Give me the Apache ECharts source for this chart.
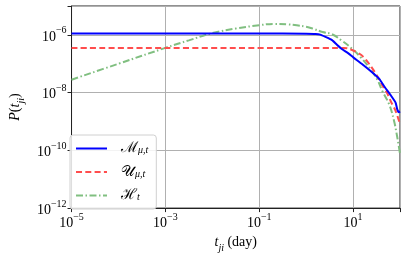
<!DOCTYPE html>
<html><head><meta charset="utf-8">
<script src="https://cdn.jsdelivr.net/npm/echarts@6/dist/echarts.min.js"></script>
<style>html,body{margin:0;padding:0;background:#fff}#c{width:407px;height:258px}</style>
</head><body><div id="c"></div>
<script>
// ---- data (x in days, y = P(t_ji)) ----
const mX = [1e-5, 0.1, 1, 1.585, 1.995, 2.58, 3.56, 4.53, 5.75, 7.94, 10.1, 15.0, 24.3, 36.1, 46.0, 63.4, 80.5, 87.1, 94.4, 100];
const mY = [1.109e-6, 1.109e-6, 1.10e-6, 1.08e-6, 1.02e-6, 8.49e-7, 6.58e-7, 4.56e-7, 3.24e-7, 2.29e-7, 1.66e-7, 1.02e-7, 5.37e-8, 2.99e-8, 1.66e-8, 8.13e-9, 4.52e-9, 2.69e-9, 2.09e-9, 2.24e-9];
const uX = [1e-5, 1, 3.98, 6.31, 7.94, 11.0, 15.0, 19.1, 24.3, 33.1, 42.2, 53.7, 63.1, 80.5, 94.4, 100];
const uY = [3.52e-7, 3.52e-7, 3.52e-7, 3.51e-7, 3.35e-7, 2.69e-7, 2.0e-7, 1.32e-7, 7.94e-8, 3.63e-8, 1.74e-8, 9.33e-9, 5.13e-9, 2.34e-9, 1.10e-9, 8.3e-10];
const hX = [1e-5, 1e-4, 1e-3, 3.16e-3, 1e-2, 3.16e-2, 0.1, 0.2, 0.398, 0.631, 1, 1.365, 2.24, 3.56, 5.75, 9.66, 15.0, 24.3, 33.1, 42.2, 58.6, 74.1, 87.1, 100];
const hY = [2.8e-8, 1.0e-7, 3.55e-7, 6.46e-7, 1.15e-6, 1.66e-6, 2.16e-6, 2.40e-6, 2.32e-6, 2.14e-6, 1.90e-6, 1.66e-6, 1.26e-6, 1.05e-6, 6.31e-7, 3.24e-7, 1.58e-7, 6.03e-8, 2.75e-8, 1.12e-8, 3.98e-9, 1.10e-9, 2.95e-10, 7.6e-11];
const seriesNames = ['M', 'U', 'H'];
const xTickExps = [-5, -3, -1, 1];
const yTickExps = [-12, -10, -8, -6];

const FONT = "'Liberation Serif', 'DejaVu Serif', serif";
const pair = (xs, ys) => xs.map((x, i) => [x, ys[i]]);
function expLabel(v, shown) {
  const e = Math.round(Math.log10(v));
  if (shown.indexOf(e) < 0) return '';
  return '{b|10}{s|' + (e < 0 ? '\u2212' + (-e) : String(e)) + '}';
}
const tickRich = {
  b: {fontFamily: FONT, fontSize: 14, color: '#000', lineHeight: 18, verticalAlign: 'bottom'},
  s: {fontFamily: FONT, fontSize: 10, color: '#000', verticalAlign: 'top'}
};
const legendText = {
  M: '{c|\u2133}{sub|\u03bc,t}',
  U: '{c|\ud835\udcb0}{sub|\u03bc,t}',
  H: '{c|\u210b}{sub|t}'
};

const chart = echarts.init(document.getElementById('c'), null, {renderer: 'canvas'});
chart.setOption({
  animation: false,
  backgroundColor: '#fff',
  grid: {left: 63.5, right: 7, top: 6, bottom: 44.5, show: true, borderColor: '#222', borderWidth: 1, containLabel: false},
  xAxis: {
    type: 'log', logBase: 10, min: 1e-5, max: 100, interval: 2,
    axisLine: {show: true, lineStyle: {color: '#222', width: 1}},
    axisTick: {show: true, length: 4, lineStyle: {color: '#222'}},
    splitLine: {show: true, lineStyle: {color: '#b0b0b0', width: 1}},
    minorTick: {show: false}, minorSplitLine: {show: false},
    axisLabel: {margin: 4, formatter: v => expLabel(v, xTickExps), rich: tickRich, showMaxLabel: true},
    name: '{i|t}{sub|ji} {n|(day)}', nameLocation: 'middle', nameGap: 20,
    nameTextStyle: {rich: {
      i: {fontFamily: FONT, fontStyle: 'italic', fontSize: 14, color: '#000', lineHeight: 18, verticalAlign: 'top'},
      sub: {fontFamily: FONT, fontStyle: 'italic', fontSize: 10, color: '#000', verticalAlign: 'bottom'},
      n: {fontFamily: FONT, fontSize: 14, color: '#000', lineHeight: 18, verticalAlign: 'top'}
    }}
  },
  yAxis: {
    type: 'log', logBase: 10, min: 1e-12, max: 1e-5, interval: 2,
    axisLine: {show: true, lineStyle: {color: '#222', width: 1}},
    axisTick: {show: true, length: 4, lineStyle: {color: '#222'}},
    splitLine: {show: true, lineStyle: {color: '#b0b0b0', width: 1}},
    minorTick: {show: false}, minorSplitLine: {show: false},
    axisLabel: {margin: 5, formatter: v => expLabel(v, yTickExps), rich: tickRich},
    name: '{i|P}{n|(}{i|t}{sub|ji}{n|)}', nameLocation: 'middle', nameGap: 37, nameRotate: 90,
    nameTextStyle: {rich: {
      i: {fontFamily: FONT, fontStyle: 'italic', fontSize: 14, color: '#000', lineHeight: 18, verticalAlign: 'top'},
      sub: {fontFamily: FONT, fontStyle: 'italic', fontSize: 10, color: '#000', verticalAlign: 'bottom'},
      n: {fontFamily: FONT, fontSize: 14, color: '#000', lineHeight: 18, verticalAlign: 'top'}
    }}
  },
  legend: {
    orient: 'vertical', left: 70, top: 135,
    padding: [6, 8, 6, 5], itemGap: 8.5, itemWidth: 31, itemHeight: 14,
    backgroundColor: 'rgba(255,255,255,0.85)', borderColor: '#d0d0d0', borderWidth: 1, borderRadius: 3,
    itemStyle: {color: 'rgba(0,0,0,0)', borderColor: 'rgba(0,0,0,0)', borderWidth: 0, opacity: 0},
    formatter: n => legendText[n],
    textStyle: {padding: [0, 0, 0, 5], rich: {
      c: {fontFamily: "'DejaVu Serif', serif", fontSize: 15, color: '#000', lineHeight: 14, verticalAlign: 'middle', padding: [0, 0, 0, 4]},
      sub: {fontFamily: FONT, fontStyle: 'italic', fontSize: 10, color: '#000', lineHeight: 14, verticalAlign: 'bottom'}
    }},
    data: seriesNames
  },
  series: [
    {name: 'M', type: 'line', data: pair(mX, mY), symbol: 'none', smooth: 0.15, z: 5,
     lineStyle: {color: '#0000ff', width: 2}, itemStyle: {color: '#0000ff'}},
    {name: 'U', type: 'line', data: pair(uX, uY), symbol: 'none', smooth: 0.3, z: 4,
     lineStyle: {color: '#ff4d4d', width: 2, type: [6, 3.3]}, itemStyle: {color: '#ff4d4d'}},
    {name: 'H', type: 'line', data: pair(hX, hY), symbol: 'none', smooth: 0.4, z: 3,
     lineStyle: {color: '#80bf80', width: 2, type: [7, 2.5, 1.5, 2.5]}, itemStyle: {color: '#80bf80'}}
  ]
});
</script></body></html>
